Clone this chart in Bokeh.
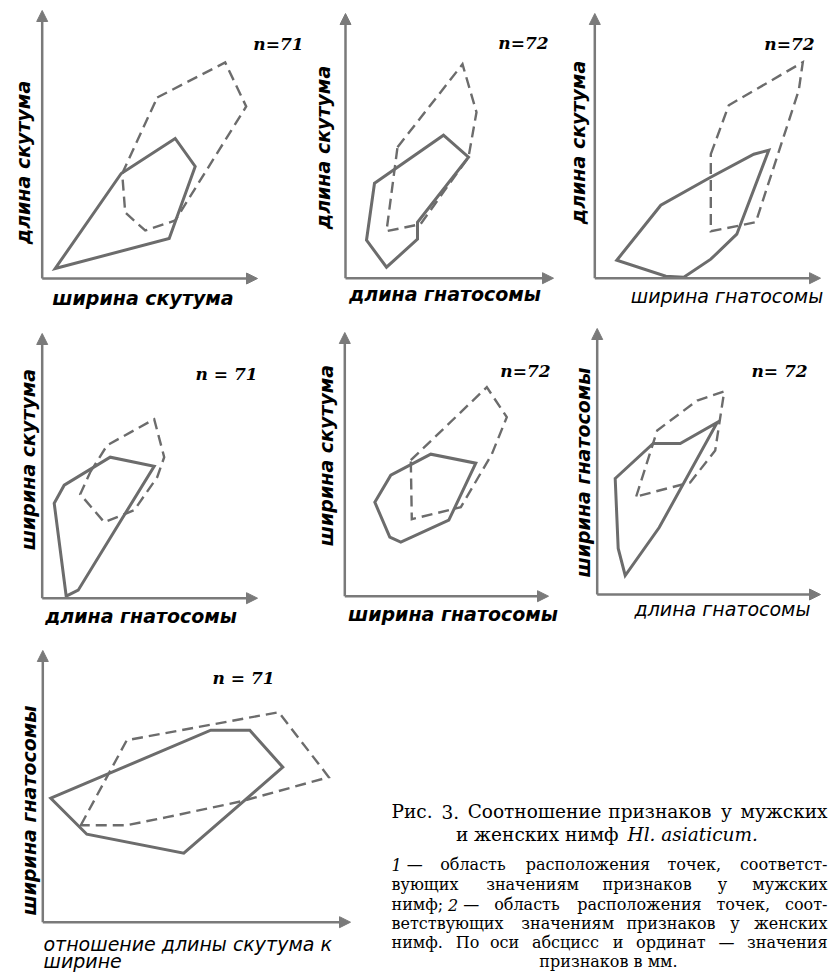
from math import pi
from bokeh.plotting import figure
from bokeh.layouts import row, column
from bokeh.models import Range1d, Arrow, NormalHead, Label
from bokeh.embed import file_html
from bokeh.resources import INLINE

# ---------------- DATA (polygon vertices, arbitrary units measured from the axis origin) ----------------
# 1 = males (solid outline), 2 = females (dashed outline)
p1_male_x = [13, 127, 153, 133, 79]
p1_male_y = [10, 40, 112, 140, 105]
p1_fem_x = [115, 183, 204, 133, 103, 83, 80]
p1_fem_y = [181, 216, 172, 58, 48, 66, 105]

p2_male_x = [29, 98, 123, 72, 72, 41, 21]
p2_male_y = [95, 143, 121, 56, 39, 11, 38]
p2_fem_x = [52, 117, 131, 123, 75, 41]
p2_fem_y = [131, 214, 166, 121, 54, 47]

p3_male_x = [22, 66, 114, 159, 174, 142, 116, 89, 71]
p3_male_y = [18, 73, 100, 124, 128, 44, 19, 1, 2]
p3_fem_x = [116, 134, 208, 204, 161, 142, 116]
p3_fem_y = [124, 173, 216, 188, 56, 52, 47]

p4_male_x = [24, 12, 22, 68, 112, 36]
p4_male_y = [2, 95, 113, 141, 132, 8]
p4_fem_x = [48, 65, 112, 122, 115, 92, 62, 38]
p4_fem_y = [126, 153, 179, 141, 121, 88, 76, 104]

p5_male_x = [30, 46, 86, 131, 104, 56, 45]
p5_male_y = [94, 121, 142, 133, 76, 54, 59]
p5_fem_x = [66, 142, 162, 147, 116, 67]
p5_fem_y = [136, 209, 179, 142, 89, 77]

p6_male_x = [18, 56, 83, 120, 62, 28, 21]
p6_male_y = [116, 151, 151, 172, 67, 19, 46]
p6_fem_x = [39, 60, 100, 127, 118, 93]
p6_fem_y = [98, 164, 194, 203, 144, 112]

p7_male_x = [8, 168, 207, 240, 141, 44]
p7_male_y = [124, 192, 192, 155, 69, 88]
p7_fem_x = [38, 84, 236, 286, 199, 124, 84]
p7_fem_y = [97, 182, 210, 145, 121, 105, 97]

x_titles = ["ширина скутума", "длина гнатосомы", "ширина гнатосомы",
            "длина гнатосомы", "ширина гнатосомы", "длина  гнатосомы",
            "отношение длины скутума к\nширине"]
y_titles = ["длина скутума", "длина скутума", "длина скутума",
            "ширина скутума", "ширина скутума", "ширина гнатосомы",
            "ширина гнатосомы"]
n_labels = ["n=71", "n=72", "n=72", "n = 71", "n=72", "n= 72", "n = 71"]

caption_title1 = ["Рис.", "3.", "Соотношение", "признаков", "у", "мужских"]
caption_title2a = "и женских нимф"
caption_title2b = "Hl. asiaticum."
# (word, italic, glued to previous word)
caption_body = [
    [("1", True, False), ("—", False, True), ("область", False, False),
     ("расположения", False, False), ("точек,", False, False), ("соответст-", False, False)],
    [("вующих", False, False), ("значениям", False, False), ("признаков", False, False),
     ("у", False, False), ("мужских", False, False)],
    [("нимф;", False, False), ("2", True, True), ("—", False, True), ("область", False, False),
     ("расположения", False, False), ("точек,", False, False), ("соот-", False, False)],
    [("ветствующих", False, False), ("значениям", False, False), ("признаков", False, False),
     ("у", False, False), ("женских", False, False)],
    [("нимф.", False, False), ("По", False, False), ("оси", False, False), ("абсцисс", False, False),
     ("и", False, False), ("ординат", False, False), ("—", False, False), ("значения", False, False)],
]
caption_last = "признаков в мм."

# ---------------- LAYOUT (window pixel geometry) ----------------
LINE = "#6c6c6c"
AXIS = "#7a7a7a"
HAND_FONT = "DejaVu Sans"
SERIF = "DejaVu Serif"

panels = [
    dict(box=(0, 308, 0, 315), origin=(41.7, 278), ytop=10, xend=257,
         n=(278, 43), xl=(142.5, 297), yl=(22, 162), xbold=True),
    dict(box=(308, 562, 0, 315), origin=(345, 277.7), ytop=13, xend=553,
         n=(523, 42), xl=(444.5, 293), yl=(322, 147), xbold=True),
    dict(box=(562, 829, 0, 315), origin=(594.3, 277.7), ytop=13, xend=820,
         n=(789, 43), xl=(726.5, 295), yl=(577, 142), xbold=False),
    dict(box=(0, 308, 315, 625), origin=(41.7, 597.7), ytop=333, xend=257,
         n=(226, 373), xl=(140.5, 615), yl=(27, 459), xbold=True),
    dict(box=(308, 562, 315, 625), origin=(344.3, 595.7), ytop=332, xend=548,
         n=(525, 370), xl=(452.5, 613), yl=(325, 455), xbold=True),
    dict(box=(562, 829, 315, 625), origin=(596.7, 594), ytop=328, xend=820,
         n=(779, 370), xl=(725, 608), yl=(582, 472), xbold=False),
    dict(box=(0, 365, 625, 973), origin=(42.3, 921.7), ytop=650, xend=350,
         n=(243, 677), xl=(43, 943), yl=(28, 810), xbold=False),
]

polys = [
    (p1_male_x, p1_male_y, p1_fem_x, p1_fem_y),
    (p2_male_x, p2_male_y, p2_fem_x, p2_fem_y),
    (p3_male_x, p3_male_y, p3_fem_x, p3_fem_y),
    (p4_male_x, p4_male_y, p4_fem_x, p4_fem_y),
    (p5_male_x, p5_male_y, p5_fem_x, p5_fem_y),
    (p6_male_x, p6_male_y, p6_fem_x, p6_fem_y),
    (p7_male_x, p7_male_y, p7_fem_x, p7_fem_y),
]


def make_panel(i):
    cfg = panels[i]
    L, R, T, B = cfg["box"]
    ox, oy = cfg["origin"]
    p = figure(width=int(R - L), height=int(B - T),
               x_range=Range1d(L - ox, R - ox), y_range=Range1d(oy - B, oy - T),
               output_backend="svg", toolbar_location=None,
               x_axis_location=None, y_axis_location=None,
               min_border=0, outline_line_color=None,
               background_fill_color="white", border_fill_color="white")
    p.grid.visible = False

    def loc(wx, wy):
        return wx - ox, oy - wy

    # axes with arrows
    for xe, ye in ((0, oy - cfg["ytop"]), (cfg["xend"] - ox, 0)):
        p.add_layout(Arrow(end=NormalHead(size=11, fill_color=AXIS, line_color=AXIS, line_width=1),
                           x_start=0, y_start=0, x_end=xe, y_end=ye,
                           line_color=AXIS, line_width=2.5))

    mx, my, fx, fy = polys[i]
    p.patch(fx, fy, fill_alpha=0, line_color=LINE, line_width=2.4, line_dash="11 6",
            line_join="miter")
    p.patch(mx, my, fill_alpha=0, line_color=LINE, line_width=3, line_join="miter")

    nx, ny = loc(*cfg["n"])
    p.add_layout(Label(x=nx, y=ny, text=n_labels[i], text_align="center",
                       text_baseline="middle", text_font="DejaVu Serif",
                       text_font_style="bold italic", text_font_size="17px",
                       text_color="black"))
    yx, yy = loc(*cfg["yl"])
    p.add_layout(Label(x=yx, y=yy, text=y_titles[i], angle=pi / 2,
                       text_align="center", text_baseline="middle",
                       text_font=HAND_FONT, text_font_style="bold italic",
                       text_font_size="19px", text_color="black"))
    xstyle = "bold italic" if cfg["xbold"] else "italic"
    lines = x_titles[i].split("\n")
    if len(lines) == 1:
        xx, xy = loc(*cfg["xl"])
        p.add_layout(Label(x=xx, y=xy, text=lines[0], text_align="center",
                           text_baseline="middle", text_font=HAND_FONT,
                           text_font_style=xstyle, text_font_size="19px",
                           text_color="black"))
    else:
        for k, t in enumerate(lines):
            xx, xy = loc(cfg["xl"][0], cfg["xl"][1] + 17 * k)
            p.add_layout(Label(x=xx, y=xy, text=t, text_align="left",
                               text_baseline="middle", text_font=HAND_FONT,
                               text_font_style=xstyle, text_font_size="19px",
                               text_color="black"))
    return p


figs = [make_panel(i) for i in range(7)]

# ---------------- caption ----------------
CAP_L, CAP_R = 391, 827
cap = figure(width=464, height=348, x_range=Range1d(365, 829), y_range=Range1d(973, 625),
             output_backend="svg", toolbar_location=None,
             x_axis_location=None, y_axis_location=None,
             min_border=0, outline_line_color=None,
             background_fill_color="white", border_fill_color="white")
cap.grid.visible = False

WIDE = {"ж": .93, "ш": .95, "щ": .97, "ю": .90, "м": .73, "ы": .84, "ф": .85,
        "г": .52, "т": .55, "с": .56, "з": .55, "е": .59, "о": .60, "а": .60,
        "у": .59, "х": .60, "р": .64, ",": .32, ".": .32, ";": .34, "-": .34,
        "—": 1.0, " ": .32}


def est_width(word, size):
    w = 0.0
    for ch in word:
        if ch in WIDE:
            w += WIDE[ch]
        elif ch.isupper():
            w += .72
        elif ch.isdigit():
            w += .64
        else:
            w += .65
    return w * size


def justify(tokens, y, size, glue_gap):
    widths = [est_width(t[0], size) for t in tokens]
    n_free = sum(1 for t in tokens[1:] if not t[2])
    n_glue = sum(1 for t in tokens[1:] if t[2])
    free = (CAP_R - CAP_L - sum(widths) - n_glue * glue_gap) / max(n_free, 1)
    x = CAP_L
    for k, (t, it, glue) in enumerate(tokens):
        if k > 0:
            x += glue_gap if glue else free
        last = k == len(tokens) - 1
        cap.add_layout(Label(x=CAP_R if last else x, y=y, text=t,
                             text_align="right" if last else "left",
                             text_baseline="middle", text_font=SERIF,
                             text_font_size=f"{size}px",
                             text_font_style="italic" if it else "normal",
                             text_color="black"))
        x += widths[k]


justify([(w, False, False) for w in caption_title1], 811, 18.5, 4)
cap.add_layout(Label(x=618, y=834, text=caption_title2a, text_align="right",
                     text_baseline="middle", text_font=SERIF, text_font_size="18.5px",
                     text_color="black"))
cap.add_layout(Label(x=627, y=834, text=caption_title2b, text_align="left",
                     text_baseline="middle", text_font=SERIF, text_font_size="18.5px",
                     text_font_style="italic", text_color="black"))
body_y = [864, 884, 904, 923, 942]
for li, toks in enumerate(caption_body):
    justify(toks, body_y[li], 16, 5)
cap.add_layout(Label(x=608, y=961, text=caption_last, text_align="center",
                     text_baseline="middle", text_font=SERIF, text_font_size="16px",
                     text_color="black"))

layout = column(row(figs[0], figs[1], figs[2]),
                row(figs[3], figs[4], figs[5]),
                row(figs[6], cap))

open("out.html", "w").write(file_html(layout, INLINE))
